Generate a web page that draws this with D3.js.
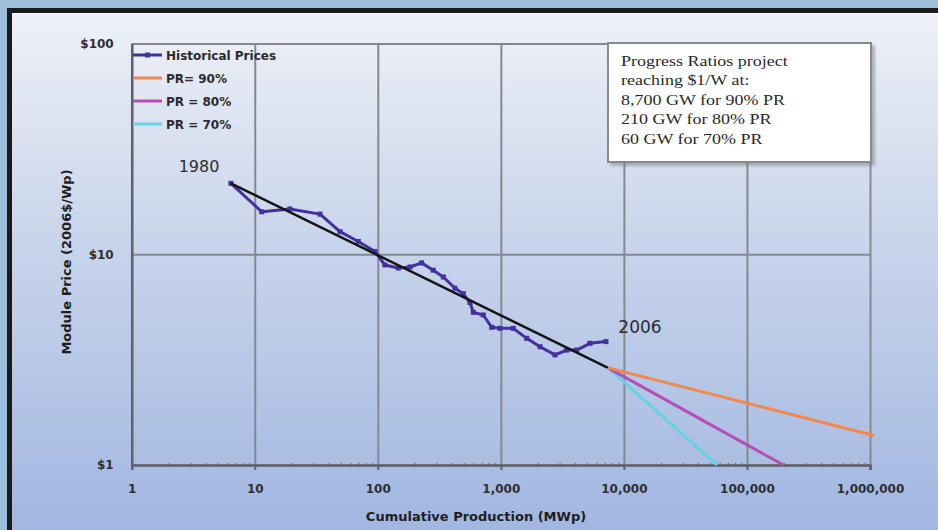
<!DOCTYPE html>
<html>
<head>
<meta charset="utf-8">
<script src="https://cdn.jsdelivr.net/npm/d3@7"></script>
<style>
  html, body { margin: 0; padding: 0; background: #9dbfdc; }
  svg { display: block; }
</style>
</head>
<body>
<svg id="chart" width="938" height="530"></svg>
<script>
// ---------- DATA ----------
const histProduction = [6.4, 11.4, 19.3, 33.9, 49.3, 69.4, 94.9, 114, 147, 183, 227, 282, 341, 424, 495, 561, 597, 720, 843, 984, 1262, 1623, 2080, 2755, 3428, 4133, 5300, 7150];
const histPrice      = [21.7, 15.9, 16.4, 15.5, 12.8, 11.5, 10.3, 8.9, 8.6, 8.7, 9.1, 8.4, 7.8, 6.9, 6.5, 5.9, 5.3, 5.15, 4.5, 4.45, 4.45, 3.99, 3.64, 3.33, 3.51, 3.51, 3.78, 3.85];
const trendProduction = [6.4, 7430];
const trendPrice      = [21.7, 2.89];
const pr90Production = [7430, 1080000];
const pr90Price      = [2.89, 1.38];
const pr80Production = [7430, 198000];
const pr80Price      = [2.89, 1.0];
const pr70Production = [7430, 57000];
const pr70Price      = [2.89, 1.0];
const xTickValues = [1, 10, 100, 1000, 10000, 100000, 1000000];
const yTickValues = [1, 10, 100];
const legendLabels = ["Historical Prices", "PR= 90%", "PR = 80%", "PR = 70%"];
const noteLines = ["Progress Ratios project", "reaching $1/W at:", "8,700 GW for 90% PR", "210 GW for 80% PR", "60 GW for 70% PR"];
const yearStart = "1980";
const yearEnd = "2006";
const xTitle = "Cumulative Production (MWp)";
const yTitle = "Module Price (2006$/Wp)";

// ---------- STYLE ----------
const colHist = "#43309c";
const colTrend = "#141414";
const col90 = "#f4874a";
const col80 = "#b44fb6";
const col70 = "#66d2e2";
const gridCol = "#85898f";

const svg = d3.select("#chart");
const defs = svg.append("defs");
const grad = defs.append("linearGradient").attr("id", "bg").attr("x1", 0).attr("y1", 0).attr("x2", 0).attr("y2", 1);
grad.append("stop").attr("offset", "0%").attr("stop-color", "#eef1f7");
grad.append("stop").attr("offset", "45%").attr("stop-color", "#c8d4eb");
grad.append("stop").attr("offset", "100%").attr("stop-color", "#a1b7e1");

const shadow = defs.append("filter").attr("id", "shadow").attr("x", "-5%").attr("y", "-5%").attr("width", "115%").attr("height", "120%");
shadow.append("feDropShadow").attr("dx", 3).attr("dy", 3).attr("stdDeviation", 1.5).attr("flood-color", "#777").attr("flood-opacity", 0.5);

// outer frame
svg.append("rect").attr("x", 0).attr("y", 0).attr("width", 938).attr("height", 530).attr("fill", "#9dbfdc");
svg.append("rect").attr("x", 7).attr("y", 8).attr("width", 931).attr("height", 522).attr("fill", "#1b1b1d");
svg.append("rect").attr("x", 12).attr("y", 13).attr("width", 926).attr("height", 517).attr("fill", "url(#bg)");
svg.append("rect").attr("x", 12).attr("y", 13).attr("width", 926).attr("height", 1.5).attr("fill", "#f8f9fc");

// ---------- SCALES ----------
const x = d3.scaleLog().domain([1, 1e6]).range([131.7, 870]);
const y = d3.scaleLog().domain([1, 100]).range([465, 43.5]);

// ---------- GRID ----------
const gridX = svg.append("g").attr("transform", `translate(0,${y(1)})`)
  .call(d3.axisBottom(x).tickValues(xTickValues).tickSize(-(y(1) - y(100))).tickFormat(""));
gridX.select(".domain").remove();
gridX.selectAll("line").attr("stroke", gridCol).attr("stroke-width", 2);

const gridY = svg.append("g").attr("transform", `translate(${x(1)},0)`)
  .call(d3.axisLeft(y).tickValues(yTickValues).tickSize(-(x(1e6) - x(1))).tickFormat(""));
gridY.select(".domain").remove();
gridY.selectAll("line").attr("stroke", gridCol).attr("stroke-width", 2);

// minor ticks
const minor = [];
for (let d = 1; d < 1e6; d *= 10) for (let k = 2; k <= 9; k++) minor.push(d * k);
const minorAx = svg.append("g").attr("transform", `translate(0,${y(1) - 2})`)
  .call(d3.axisBottom(x).tickValues(minor).tickSize(4).tickFormat(""));
minorAx.select(".domain").remove();
minorAx.selectAll("line").attr("stroke", "#6b6f78").attr("stroke-width", 1.2);

// axes
const xAxis = svg.append("g").attr("transform", `translate(0,${y(1)})`)
  .call(d3.axisBottom(x).tickValues(xTickValues).tickSize(5).tickPadding(14).tickFormat(d3.format(",")));
xAxis.select(".domain").attr("stroke", "#5e626a").attr("stroke-width", 2.5);
xAxis.selectAll("line").attr("stroke", "#5e626a").attr("stroke-width", 2);
xAxis.selectAll("text").attr("fill", "#2e2e33").attr("font-family", "DejaVu Sans").attr("font-weight", "bold").attr("font-size", 12);

const yAxis = svg.append("g").attr("transform", `translate(${x(1)},0)`)
  .call(d3.axisLeft(y).tickValues(yTickValues).tickSize(0).tickPadding(18).tickFormat(d => "$" + d));
yAxis.select(".domain").attr("stroke", "#5e626a").attr("stroke-width", 2.5);
yAxis.selectAll("text").attr("fill", "#2e2e33").attr("font-family", "DejaVu Sans").attr("font-weight", "bold").attr("font-size", 12);

// axis titles
svg.append("text").attr("x", 476).attr("y", 521).attr("text-anchor", "middle")
  .attr("font-family", "DejaVu Sans").attr("font-weight", "bold").attr("font-size", 13).attr("fill", "#1e1e22").text(xTitle);
svg.append("text").attr("transform", "translate(71,262) rotate(-90)").attr("text-anchor", "middle")
  .attr("font-family", "DejaVu Sans").attr("font-weight", "bold").attr("font-size", 13).attr("fill", "#1e1e22").text(yTitle);

// ---------- LINES ----------
const line = d3.line().x(d => x(d[0])).y(d => y(d[1]));
const hist = histProduction.map((v, i) => [v, histPrice[i]]);

svg.append("path").datum(hist).attr("d", line).attr("fill", "none").attr("stroke", colHist).attr("stroke-width", 3).attr("stroke-linejoin", "round");
svg.selectAll(".mk").data(hist).join("rect").attr("class", "mk")
  .attr("x", d => x(d[0]) - 2.5).attr("y", d => y(d[1]) - 2.5).attr("width", 5).attr("height", 5).attr("fill", colHist);

svg.append("path").datum(trendProduction.map((v, i) => [v, trendPrice[i]])).attr("d", line)
  .attr("fill", "none").attr("stroke", colTrend).attr("stroke-width", 2.5);

[[pr70Production, pr70Price, col70], [pr80Production, pr80Price, col80], [pr90Production, pr90Price, col90]].forEach(([px, py, c]) => {
  svg.append("path").datum(px.map((v, i) => [v, py[i]])).attr("d", line)
    .attr("fill", "none").attr("stroke", c).attr("stroke-width", 3);
});

// ---------- LABELS ----------
svg.append("text").attr("x", 199).attr("y", 172).attr("text-anchor", "middle")
  .attr("font-family", "DejaVu Sans").attr("font-size", 16).attr("fill", "#2c2c30").text(yearStart);
svg.append("text").attr("x", 640).attr("y", 333).attr("text-anchor", "middle")
  .attr("font-family", "DejaVu Sans").attr("font-size", 17).attr("fill", "#2c2c30").text(yearEnd);

// ---------- LEGEND ----------
const legColors = [colHist, col90, col80, col70];
const legRowY = [55, 78, 101, 124];
const leg = svg.append("g");
legendLabels.forEach((lab, i) => {
  leg.append("line").attr("x1", 133).attr("x2", 162).attr("y1", legRowY[i]).attr("y2", legRowY[i])
    .attr("stroke", legColors[i]).attr("stroke-width", 3);
  if (i === 0) leg.append("rect").attr("x", 145).attr("y", legRowY[i] - 2.5).attr("width", 5).attr("height", 5).attr("fill", colHist);
  leg.append("text").attr("x", 166).attr("y", legRowY[i] + 4.5)
    .attr("font-family", "DejaVu Sans").attr("font-weight", "bold").attr("font-size", 12).attr("fill", "#2a2a2e").text(lab);
});

// ---------- NOTE BOX ----------
svg.append("rect").attr("x", 608).attr("y", 43).attr("width", 263).attr("height", 119)
  .attr("fill", "#ffffff").attr("stroke", "#86898e").attr("stroke-width", 2).attr("filter", "url(#shadow)");
const note = svg.append("g").attr("transform", "translate(621,0) scale(1.2,1)");
noteLines.forEach((t, i) => {
  note.append("text").attr("x", 0).attr("y", 66 + i * 19.5)
    .attr("font-family", "Liberation Serif").attr("font-size", 15).attr("fill", "#2a2a2a").text(t);
});
</script>
</body>
</html>
